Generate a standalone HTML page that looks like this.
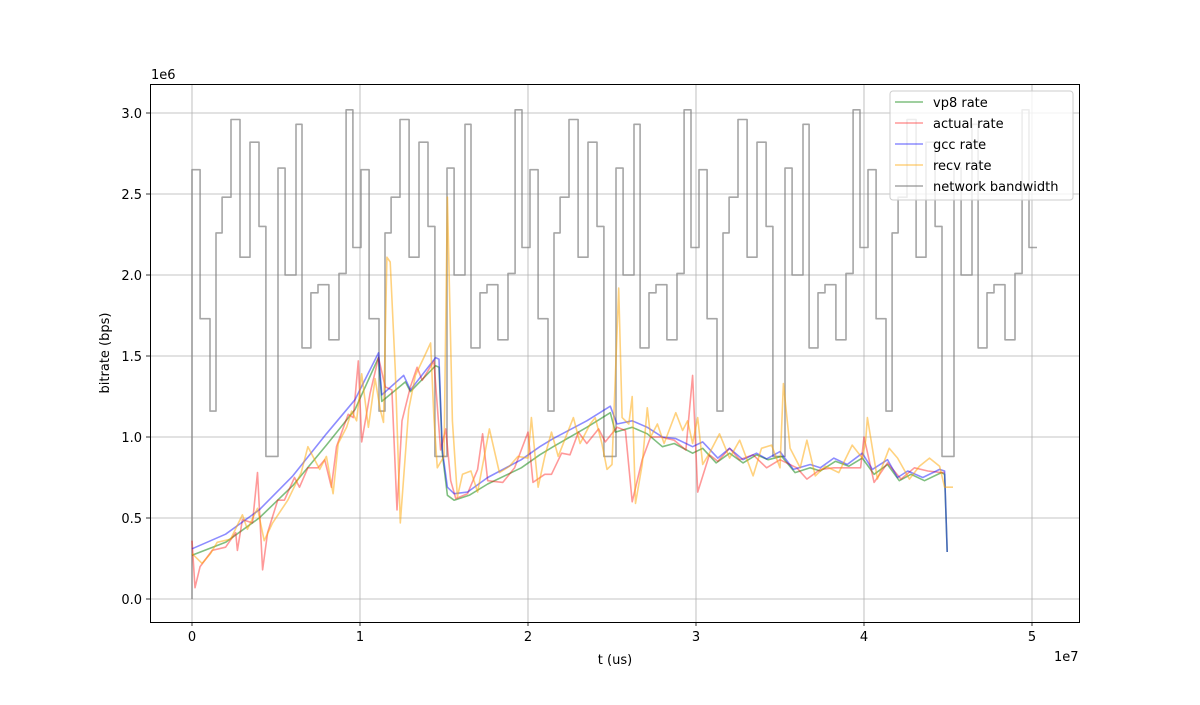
<!DOCTYPE html>
<html><head><meta charset="utf-8"><style>
body{margin:0;background:#fff;}
svg text{font-family:"DejaVu Sans","Liberation Sans",sans-serif;font-size:13px;fill:#000;}
</style></head><body>
<svg id="chart" width="1200" height="700" xmlns="http://www.w3.org/2000/svg">
<rect width="1200" height="700" fill="#fff"/>
<g id="grid"></g>
<g id="series"></g>
<rect x="150.5" y="84.5" width="929" height="538" fill="none" stroke="#000" stroke-width="1"/>
<g id="ticks"></g>
<text x="151" y="79">1e6</text>
<text x="1054" y="661">1e7</text>
<text x="615" y="664" text-anchor="middle">t (us)</text>
<text transform="translate(109,353) rotate(-90)" text-anchor="middle">bitrate (bps)</text>
<g>
<rect x="890" y="91" width="183" height="109" rx="3" fill="#fff" fill-opacity="0.8" stroke="#ccc"/>
<g><line x1="895" y1="102" x2="923" y2="102" stroke="#008000" stroke-opacity="0.5" stroke-width="1.5"/><text x="933" y="107">vp8 rate</text></g>
<g><line x1="895" y1="123" x2="923" y2="123" stroke="#ff0000" stroke-opacity="0.4" stroke-width="1.5"/><text x="933" y="128">actual rate</text></g>
<g><line x1="895" y1="144" x2="923" y2="144" stroke="#0000ff" stroke-opacity="0.45" stroke-width="1.5"/><text x="933" y="149">gcc rate</text></g>
<g><line x1="895" y1="165" x2="923" y2="165" stroke="#ffa500" stroke-opacity="0.5" stroke-width="1.5"/><text x="933" y="170">recv rate</text></g>
<g><line x1="895" y1="186" x2="923" y2="186" stroke="#808080" stroke-opacity="0.7" stroke-width="1.5"/><text x="933" y="191">network bandwidth</text></g>
</g>
</svg>
<script>
// units: time 1e6 us, rate 1e6 bps
const xTicks=[0,1,2,3,4,5];
const yTicks=[0,0.5,1.0,1.5,2.0,2.5,3.0];
const xTickLabels=["0","1","2","3","4","5"];
const yTickLabels=["0.0","0.5","1.0","1.5","2.0","2.5","3.0"];
const bwEdges=[0,0.48,1.07,1.43,1.79,2.32,2.86,3.45,3.99,4.40,5.12,5.54,6.19,6.55,7.08,7.50,8.15,8.75,9.17,9.58];
const bwValues=[2.65,1.73,1.16,2.26,2.48,2.96,2.11,2.82,2.30,0.88,2.66,2.00,2.93,1.55,1.89,1.94,1.60,2.01,3.02,2.17];
const bwPeriod=10.06, bwRepeats=5, bwEnd=50.3;
const gccT=[0,2,4,6,8,9.7,11.1,11.3,12.6,13,14.5,14.7,14.9,15.2,15.6,16.4,17.6,19.6,20.7,21.5,23.5,24.9,25.3,26.2,27.1,28,28.8,29.8,30.4,31.3,32,32.8,33.6,34.2,35,35.8,36.8,37.4,38.2,39,39.9,40.5,41.4,42,42.6,43.5,44.5,44.8,44.95];
const gccV=[0.31,0.4,0.55,0.76,1.02,1.23,1.52,1.26,1.38,1.29,1.49,1.48,0.92,0.69,0.65,0.66,0.75,0.86,0.94,0.99,1.1,1.19,1.08,1.1,1.06,1.0,0.99,0.94,0.97,0.87,0.93,0.86,0.90,0.865,0.91,0.80,0.83,0.81,0.87,0.83,0.90,0.80,0.86,0.75,0.79,0.75,0.80,0.79,0.29];
const vp8T=[0,2,4,6,8,9.7,11.1,11.3,12.7,13,14.5,14.7,14.9,15.2,15.6,16.5,17.6,19.6,20.7,21.5,23.5,24.9,25.2,26.2,27.1,28,28.7,29.8,30.4,31.2,32,32.8,33.6,34.3,35.1,35.9,36.8,37.4,38.3,39.1,39.9,40.6,41.4,42.1,42.8,43.6,44.6,44.8,44.95];
const vp8V=[0.27,0.35,0.5,0.7,0.95,1.17,1.49,1.22,1.34,1.28,1.44,1.43,0.9,0.64,0.61,0.64,0.71,0.81,0.89,0.94,1.06,1.15,1.03,1.06,1.02,0.94,0.96,0.90,0.93,0.84,0.90,0.84,0.89,0.86,0.88,0.78,0.81,0.79,0.85,0.82,0.87,0.77,0.83,0.73,0.77,0.73,0.78,0.77,0.29];
const actualT=[0,0.18,0.48,1.2,2.0,2.6,2.7,3.0,3.6,3.9,4.2,4.5,5.1,5.5,6.1,6.4,6.9,7.5,7.9,8.3,8.6,9.3,9.6,9.9,10.1,10.6,11.1,11.5,11.9,12.2,12.5,13,13.4,13.7,14.4,14.8,15.1,15.4,15.7,16.4,17,17.3,17.6,18.5,19.2,20,20.3,21,21.4,22,22.5,23,23.5,24.2,24.6,25.3,25.8,26.2,26.8,27.3,27.9,28.7,29.4,29.8,30.1,30.8,31.3,32,32.6,33.4,34.2,35,36,36.6,37.4,38.2,39,39.8,40,40.6,41.4,42.2,43,43.8,44.6,44.8];
const actualV=[0.36,0.07,0.2,0.3,0.32,0.41,0.3,0.49,0.47,0.78,0.18,0.41,0.61,0.61,0.75,0.69,0.81,0.81,0.86,0.69,0.94,1.14,1.12,1.47,0.97,1.27,1.49,1.31,1.29,0.55,1.1,1.31,1.43,1.35,1.47,0.92,1.05,0.73,0.62,0.65,0.80,1.02,0.73,0.72,0.81,1.03,0.72,0.77,0.77,0.9,0.89,1.03,0.96,1.05,0.97,1.06,1.04,0.60,0.86,1.0,1.0,0.98,0.92,1.38,0.66,0.89,0.85,0.93,0.86,0.89,0.81,0.86,0.81,0.74,0.8,0.81,0.81,0.81,1.0,0.72,0.84,0.74,0.81,0.79,0.78,0.78];
const recvT=[0,0.6,1.1,1.5,2.3,3.0,3.3,3.9,4.3,4.8,5.7,6.5,6.9,7.6,8.0,8.4,8.7,9.2,9.5,9.8,10.1,10.5,10.9,11.2,11.4,11.6,11.8,12.1,12.4,12.9,13.3,13.8,14.2,14.4,14.6,15.0,15.2,15.5,15.8,16.1,16.6,17.0,17.7,18.3,18.9,19.4,20.0,20.2,20.6,21.0,21.4,21.8,22.7,23.1,23.7,24.0,24.4,24.7,25.0,25.4,25.6,26.0,26.2,26.4,26.8,27.1,27.3,27.7,28.1,28.8,29.2,29.5,29.8,30.1,30.4,30.8,31.4,32,32.6,33.4,33.9,34.5,35.0,35.2,35.6,36.2,36.6,37.1,37.7,38.5,39.3,39.9,40.1,40.2,40.8,41.5,42.0,42.7,43.3,43.9,44.5,44.8,45.3];
const recvV=[0.28,0.22,0.28,0.35,0.37,0.52,0.43,0.56,0.36,0.47,0.61,0.78,0.94,0.80,0.88,0.65,0.96,1.06,1.16,1.1,1.39,1.06,1.36,1.17,1.09,2.11,2.08,1.41,0.47,1.17,1.38,1.49,1.58,1.12,0.81,0.88,2.48,1.1,0.63,0.77,0.79,0.66,1.05,0.78,0.82,0.88,0.87,1.12,0.69,0.88,1.03,0.88,1.12,0.96,1.08,1.12,0.96,0.80,0.83,1.92,1.12,1.08,1.25,0.59,0.83,1.18,1.0,1.08,0.96,1.15,1.04,1.1,0.96,1.12,0.83,0.9,1.02,0.87,0.98,0.76,0.93,0.95,0.81,1.33,0.93,0.81,0.98,0.76,0.82,0.78,0.95,0.87,0.98,1.12,0.74,0.93,0.87,0.74,0.82,0.87,0.82,0.69,0.69];

const NS="http://www.w3.org/2000/svg";
function X(t){return 192+t*16.8;}
function Y(v){return 599-v*162;}
function el(tag,attrs,parent){const e=document.createElementNS(NS,tag);for(const k in attrs)e.setAttribute(k,attrs[k]);parent.appendChild(e);return e;}
const grid=document.getElementById('grid'),ticks=document.getElementById('ticks'),series=document.getElementById('series');
xTicks.forEach((v,i)=>{
  const x=X(v*10);
  const g=el('line',{x1:x,x2:x,y1:84,y2:622,stroke:'#b0b0b0','stroke-width':0.8},grid);
  
  
  const t=el('line',{x1:x,x2:x,y1:622,y2:626,stroke:'#000','stroke-width':0.8},ticks);
  
  
  const l=el('text',{x:x,y:641,'text-anchor':'middle'},ticks);l.textContent=xTickLabels[i];
  
  
});
yTicks.forEach((v,i)=>{
  const y=Y(v);
  const g=el('line',{x1:150,x2:1080,y1:y,y2:y,stroke:'#b0b0b0','stroke-width':0.8},grid);
  
  
  const t=el('line',{x1:146,x2:150,y1:y,y2:y,stroke:'#000','stroke-width':0.8},ticks);
  
  
  const l=el('text',{x:142,y:y+5,'text-anchor':'end'},ticks);l.textContent=yTickLabels[i];
  
  
});
// bandwidth steps
let bw=[[0,0]];
for(let r=0;r<bwRepeats;r++){
  for(let i=0;i<bwEdges.length;i++){
    const t0=bwEdges[i]+r*bwPeriod;
    const t1=(i+1<bwEdges.length)?bwEdges[i+1]+r*bwPeriod:(r+1<bwRepeats?(r+1)*bwPeriod:bwEnd);
    bw.push([t0,bwValues[i]]);bw.push([t1,bwValues[i]]);
  }
}
function line(T,V,color,op,name){
  const pts=T.map((t,i)=>X(t).toFixed(1)+','+Y(V[i]).toFixed(1)).join(' ');
  const p=el('polyline',{points:pts,fill:'none',stroke:color,'stroke-opacity':op,'stroke-width':1.6,'stroke-linejoin':'round'},series);
  
  
}
line(bw.map(p=>p[0]),bw.map(p=>p[1]),'#808080',0.7,'network-bandwidth-line');
line(vp8T,vp8V,'#008000',0.5,'vp8-rate-line');
line(actualT,actualV,'#ff0000',0.4,'actual-rate-line');
line(gccT,gccV,'#0000ff',0.45,'gcc-rate-line');
line(recvT,recvV,'#ffa500',0.5,'recv-rate-line');
</script>
</body></html>
